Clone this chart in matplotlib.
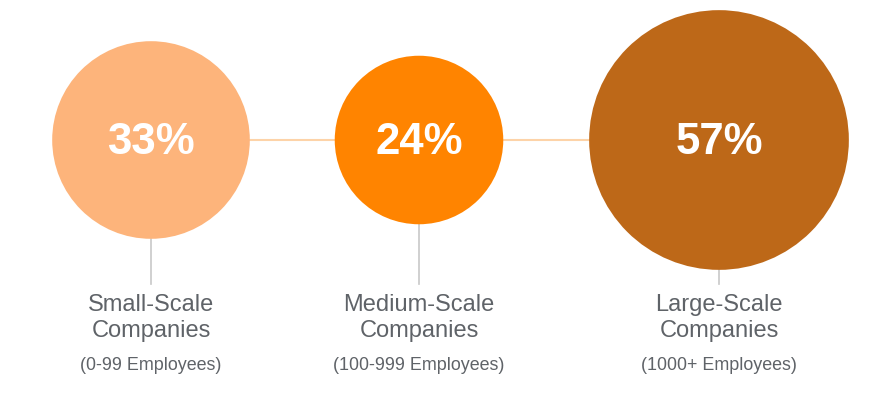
import matplotlib.pyplot as plt
from matplotlib.patches import Circle
import numpy as np

plt.rcParams['font.family'] = ['Liberation Sans', 'DejaVu Sans']

values = [33, 24, 57]
names = ["Small-Scale\nCompanies", "Medium-Scale\nCompanies", "Large-Scale\nCompanies"]
ranges = ["(0-99 Employees)", "(100-999 Employees)", "(1000+ Employees)"]
colors = ["#FDB47B", "#FF8400", "#BD6818"]

fig = plt.figure(figsize=(8.94, 3.95), dpi=100)
ax = fig.add_axes([0, 0, 1, 1])
ax.set_xlim(0, 894)
ax.set_ylim(395, 0)
ax.set_aspect("equal")
ax.axis("off")

xs = [151, 419, 719]
cy = 140
k = 17.2
radii = [k * np.sqrt(v) for v in values]

# connector behind circles
ax.plot([xs[0], xs[-1]], [cy, cy], color="#FDD3A8", lw=1.5, zorder=1)

for x, v, r, c, n, rg in zip(xs, values, radii, colors, names, ranges):
    ax.add_patch(Circle((x, cy), r, color=c, zorder=2, lw=0))
    ax.plot([x, x], [cy + r, 284], color="#C8C8C8", lw=1.2, zorder=1)
    ax.text(x, cy + 3, f"{v}%", color="white", fontsize=31.5, fontweight="bold",
            ha="center", va="center", zorder=3)
    ax.text(x, 318, n, color="#5F6368", fontsize=17, ha="center", va="center",
            linespacing=1.22)
    ax.text(x, 366, rg, color="#5F6368", fontsize=12.9, ha="center", va="center")

fig.savefig("out.png", dpi=100)
